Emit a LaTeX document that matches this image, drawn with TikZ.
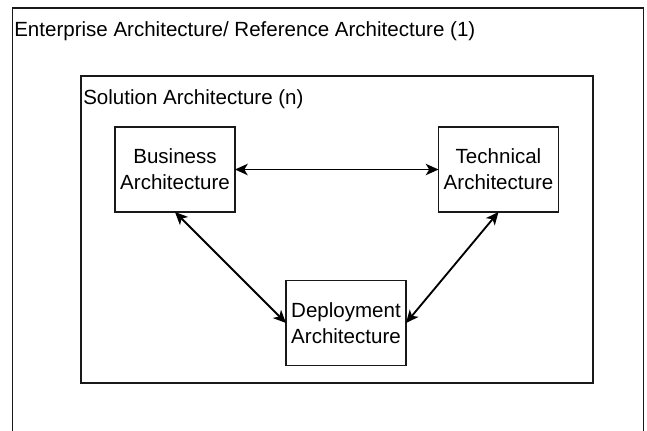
\documentclass[tikz,border=0pt]{standalone}
\usepackage{fontspec}
\setmainfont{Liberation Sans}
\usetikzlibrary{arrows.meta}
\tikzset{
  frame/.style={draw=black!90, line width=1.4pt, rectangle, inner sep=0pt, outer sep=0pt},
  archbox/.style={frame, fill=white, minimum width=90pt, minimum height=63.75pt,
    align=center, font=\fontsize{15.4}{19.5}\selectfont},
  caption/.style={anchor=base west, inner sep=0pt, font=\fontsize{15.4}{18}\selectfont},
  link/.style={line width=1.4pt, {Stealth[length=9.5pt,width=8.5pt,inset=2.5pt]}-{Stealth[length=9.5pt,width=8.5pt,inset=2.5pt]}}
}
\begin{document}
\begin{tikzpicture}[x=0.75pt, y=-0.75pt]
  \useasboundingbox (0,0) rectangle (647,430);
  \clip (0,0) rectangle (647,430);
  \fill[white] (0,0) rectangle (647,430);

  % enclosing frames
  \node[frame, minimum width=473.25pt, minimum height=339pt] (enterprise) at (328,234) {};
  \node[caption] (entlabel) at (14,36.5) {Enterprise Architecture/ Reference Architecture (1)};
  \node[frame, minimum width=384pt, minimum height=230pt] (solution) at (336.7,229.3) {};
  \node[caption] (sollabel) at (83,104) {Solution Architecture (n)};

  % architecture views
  \node[archbox] (business) at (175,169.5) {Business\\Architecture};
  \node[archbox] (technical) at (498.5,169.5) {Technical\\Architecture};
  \node[archbox] (deployment) at (346,323) {Deployment\\Architecture};

  % relations
  \draw[link] (business.east) -- (technical.west);
  \draw[link] (business.south) -- (deployment.west);
  \draw[link] (technical.south) -- (deployment.east);
\end{tikzpicture}
\end{document}
